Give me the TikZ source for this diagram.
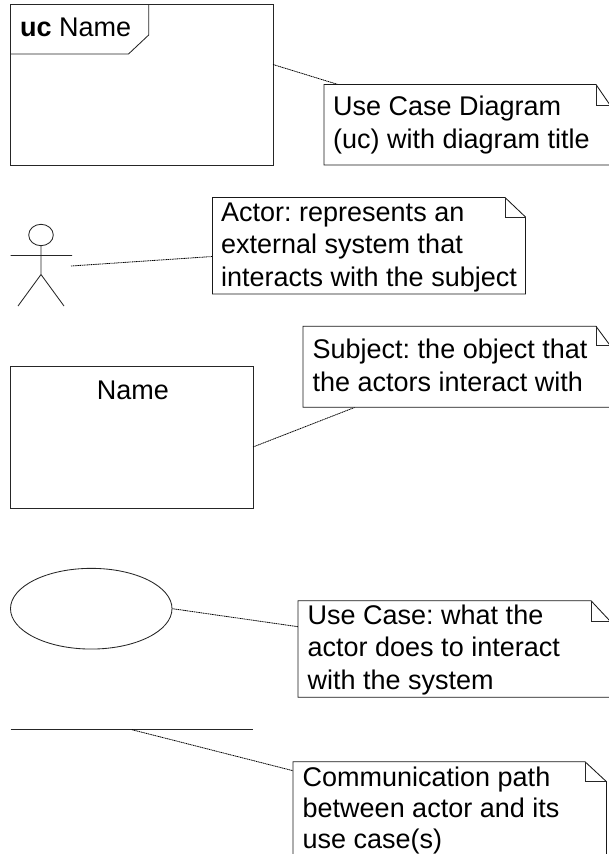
\documentclass[tikz,border=0pt]{standalone}
\usepackage{fontspec}
\usetikzlibrary{shapes.geometric}
\setmainfont{Liberation Sans}
\frenchspacing
\tikzset{
  shapeline/.style={draw=black!85, line width=0.85pt, line join=miter},
  notepath/.style={draw=black!90, line width=0.85pt, fill=white, line join=miter},
  connector/.style={draw=black, line width=0.8pt, dash pattern=on 1.2pt off 0.6pt},
  notetext/.style={anchor=base west, inner sep=0pt, align=left, font=\fontsize{27}{32.5}\selectfont\frenchspacing, text=black},
  anchorbox/.style={inner sep=0pt, outer sep=0pt, anchor=north west}
}
\begin{document}
\begin{tikzpicture}[x=1pt,y=-1pt]
\useasboundingbox (0,0) rectangle (609,854);
\clip (0,0) rectangle (609,854);
% frame
\node[anchorbox, shapeline, minimum width=262.5pt, minimum height=161pt] (frame) at (10.5,4) {};
\draw[shapeline] (frame.north west -| 148.7,0) -- (148.7,35) -- (128.5,54) -- (frame.west |- 0,54);
\node[notetext] (uctitle) at (20,36) {\textbf{uc} Name};
% note 1
\node[anchorbox, minimum width=286pt, minimum height=80.5pt] (note1) at (324,84.5) {};
\coordinate (f1a) at (frame.east |- 0,64.5);
\coordinate (n1a) at (338,84.5);
\draw[connector] (f1a) -- (n1a);
\draw[notepath] (note1.north west) -- (596,84.5) -- (610,105) -- (610,165) -- (324,165) -- cycle;
\draw[shapeline] (596,84.5) -- (596,105) -- (610,105);
\node[notetext] (t1) at (333,148) {Use Case Diagram\\(uc) with diagram title};
% actor
\node[draw=black!85, line width=0.85pt, ellipse, inner sep=0pt, minimum width=24.6pt, minimum height=21.4pt] (head) at (41,235) {};
\coordinate (arml) at (10.5,255.5);
\coordinate (armr) at (72,255.5);
\coordinate (hip) at (41,274.5);
\coordinate (legl) at (18,306);
\coordinate (legr) at (64,306);
\draw[shapeline] (head.south) -- (hip) (arml) -- (armr) (legl) -- (hip) -- (legr);
% note 2
\node[anchorbox, minimum width=313pt, minimum height=96.5pt] (note2) at (212.5,197.5) {};
\coordinate (a2a) at (71,266);
\coordinate (n2a) at (212.5,256.5);
\draw[connector] (a2a) -- (n2a);
\draw[notepath] (note2.north west) -- (505,197.5) -- (525.5,217) -- (525.5,294) -- (212.5,294) -- cycle;
\draw[shapeline] (505,197.5) -- (505,217) -- (525.5,217);
\node[notetext] (t2) at (221,286) {Actor: represents an\\external system that\\interacts with the subject};
% subject
\node[anchorbox, shapeline, minimum width=242.5pt, minimum height=141.3pt] (subject) at (10.5,366.7) {};
\node[notetext, anchor=base] (subjname) at (133,399) {Name};
% note 3
\node[anchorbox, minimum width=307pt, minimum height=81pt] (note3) at (303,326.3) {};
\coordinate (s3a) at (subject.east |- 0,447);
\coordinate (n3a) at (355,407.3);
\draw[connector] (s3a) -- (n3a);
\draw[notepath] (note3.north west) -- (596,326.3) -- (610,345.3) -- (610,407.3) -- (303,407.3) -- cycle;
\draw[shapeline] (596,326.3) -- (596,345.3) -- (610,345.3);
\node[notetext] (t3) at (312.5,391) {Subject: the object that\\the actors interact with};
% use case
\node[draw=black!85, line width=0.85pt, ellipse, inner sep=0pt, minimum width=161.5pt, minimum height=80.7pt] (usecase) at (91.25,608.7) {};
\node[anchorbox, minimum width=312pt, minimum height=96.6pt] (note4) at (298,600.7) {};
\coordinate (n4a) at (298,626.7);
\draw[connector] (usecase.east) -- (n4a);
\draw[notepath] (note4.north west) -- (591,600.7) -- (610,621) -- (610,697.3) -- (298,697.3) -- cycle;
\draw[shapeline] (591,600.7) -- (591,621) -- (610,621);
\node[notetext] (t4) at (307.5,689.3) {Use Case: what the\\actor does to interact\\with the system};
% communication path
\coordinate (pathl) at (10.5,729.7);
\coordinate (pathr) at (253,729.7);
\coordinate (pathm) at (132,729.7);
\draw[shapeline] (pathl) -- (pathr);
\coordinate (n5a) at (293,770.7);
\draw[connector] (pathm) -- (n5a);
\node[anchorbox, minimum width=313.5pt, minimum height=100pt] (note5) at (293,761.7) {};
\draw[notepath] (note5.north west) -- (585,761.7) -- (606.5,781.7) -- (606.5,870) -- (293,870) -- cycle;
\draw[shapeline] (585,761.7) -- (585,781.7) -- (606.5,781.7);
\node[notetext, font=\fontsize{27}{31}\selectfont\frenchspacing] (t5) at (302.5,848) {Communication path\\between actor and its\\use case(s)};
\end{tikzpicture}
\end{document}
